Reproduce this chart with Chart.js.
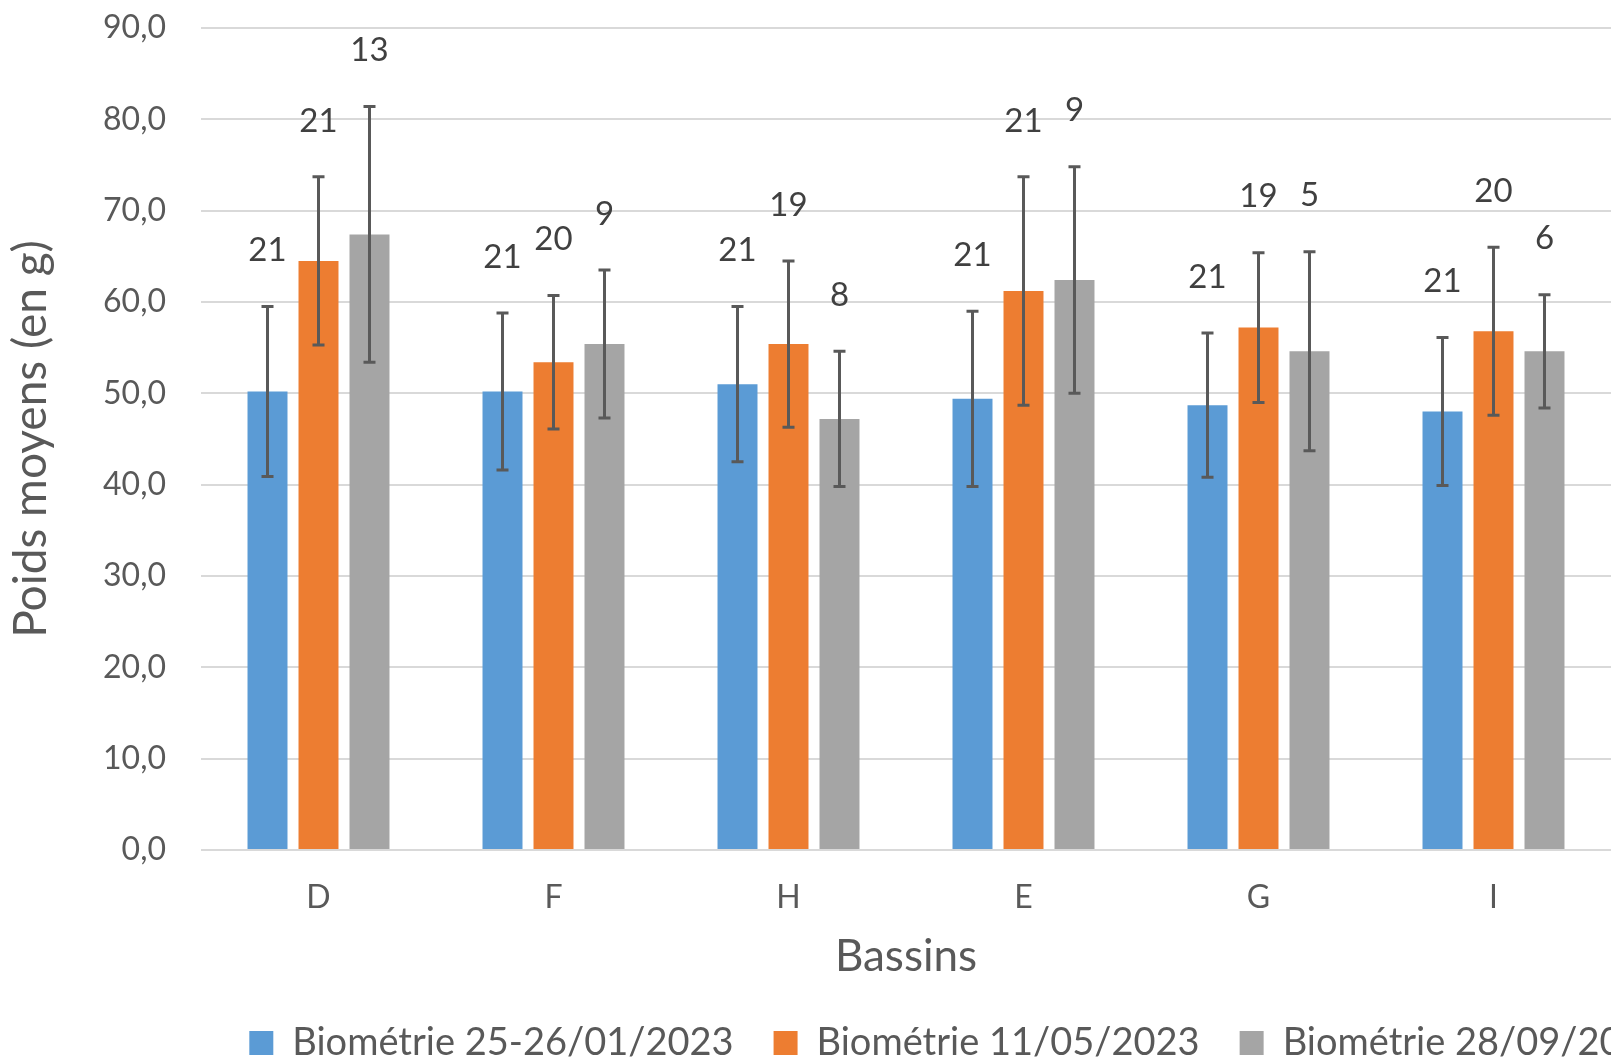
<!DOCTYPE html>
<html>
<head>
<meta charset="utf-8">
<script src="https://cdn.jsdelivr.net/npm/chart.js@4"></script>
<style>
  html, body { margin: 0; padding: 0; background: #fff; overflow: hidden; }
  #wrap { width: 1611px; height: 1062px; }
</style>
</head>
<body>
<div id="wrap"><canvas id="poidsChart"></canvas></div>
<script>
// Bassins
const categories = ["D", "F", "H", "E", "G", "I"];
const seriesNames = ["Biométrie 25-26/01/2023", "Biométrie 11/05/2023", "Biométrie 28/09/2023"];

// poids moyens (g)
const meanJan = [50.2, 50.2, 51.0, 49.4, 48.7, 48.0];
const meanMay = [64.5, 53.4, 55.4, 61.2, 57.2, 56.8];
const meanSep = [67.4, 55.4, 47.2, 62.4, 54.6, 54.6];

// ecarts-types (g)
const sdJan = [9.3, 8.6, 8.5, 9.6, 7.9, 8.1];
const sdMay = [9.2, 7.3, 9.1, 12.5, 8.2, 9.2];
const sdSep = [14.0, 8.1, 7.4, 12.4, 10.9, 6.2];

// effectifs
const nJan = [21, 21, 21, 21, 21, 21];
const nMay = [21, 20, 19, 21, 19, 20];
const nSep = [13, 9, 8, 9, 5, 6];

const yTicks = [0, 10, 20, 30, 40, 50, 60, 70, 80, 90];

const colors = ["#5B9BD5", "#ED7D31", "#A5A5A5"];
const textColor = "#595959";

const makeSet = (i, data, sd, n) => ({
    label: seriesNames[i],
    data: data,
    sd: sd,
    n: n,
    backgroundColor: colors[i],
    borderWidth: 0,
    categoryPercentage: 0.651,
    barPercentage: 0.784
});

// error bars + sample sizes above them
const errorBarsPlugin = {
    id: "errorBars",
    afterDatasetsDraw(chart) {
        const ctx = chart.ctx;
        const y = chart.scales.y;
        ctx.save();
        chart.data.datasets.forEach((ds, di) => {
            const meta = chart.getDatasetMeta(di);
            meta.data.forEach((bar, i) => {
                const top = y.getPixelForValue(ds.data[i] + ds.sd[i]);
                const bottom = y.getPixelForValue(ds.data[i] - ds.sd[i]);
                ctx.strokeStyle = "#595959";
                ctx.lineWidth = 3;
                ctx.beginPath();
                ctx.moveTo(bar.x, top);
                ctx.lineTo(bar.x, bottom);
                ctx.moveTo(bar.x - 6, top);
                ctx.lineTo(bar.x + 6, top);
                ctx.moveTo(bar.x - 6, bottom);
                ctx.lineTo(bar.x + 6, bottom);
                ctx.stroke();

                ctx.fillStyle = "#404040";
                ctx.font = "33px Lato";
                ctx.textAlign = "center";
                ctx.textBaseline = "middle";
                ctx.fillText(String(ds.n[i]), bar.x, top - 56);
            });
        });
        ctx.restore();
    }
};

// legend is wider than the visible area in the original: shift it like Excel did
const legendShiftPlugin = {
    id: "legendShift",
    afterLayout(chart) {
        const lg = chart.legend;
        lg.right = lg.left + 1915;
        lg.top += 10;
        lg.bottom += 10;
    }
};

new Chart(document.getElementById("poidsChart"), {
    type: "bar",
    data: {
        labels: categories,
        datasets: [
            makeSet(0, meanJan, sdJan, nJan),
            makeSet(1, meanMay, sdMay, nMay),
            makeSet(2, meanSep, sdSep, nSep)
        ]
    },
    options: {
        responsive: true,
        maintainAspectRatio: false,
        animation: false,
        layout: { padding: { top: 28, right: 0, bottom: 0, left: 0 } },
        plugins: {
            tooltip: { enabled: false },
            legend: {
                position: "bottom",
                labels: {
                    boxWidth: 24,
                    boxHeight: 24,
                    padding: 40,
                    color: textColor,
                    font: { family: "Lato", size: 38 }
                }
            }
        },
        scales: {
            x: {
                grid: { display: false },
                border: { display: false },
                ticks: {
                    color: textColor,
                    font: { family: "Lato", size: 32 },
                    padding: 20
                },
                title: {
                    display: true,
                    text: "Bassins",
                    color: textColor,
                    font: { family: "Lato", size: 44 },
                    padding: { top: 0, bottom: -9 }
                },
                afterFit(scale) { scale.height = 124; }
            },
            y: {
                min: 0,
                max: 90,
                afterBuildTicks(scale) { scale.ticks = yTicks.map(v => ({ value: v })); },
                grid: { color: "#D9D9D9", lineWidth: 2, drawTicks: false },
                border: { display: false },
                ticks: {
                    color: textColor,
                    font: { family: "Lato", size: 32 },
                    padding: 35,
                    callback: (v) => Number(v).toFixed(1).replace(".", ",")
                },
                title: {
                    display: true,
                    text: "Poids moyens (en g)",
                    color: textColor,
                    font: { family: "Lato", size: 46 },
                    padding: { top: 4, bottom: 0 }
                },
                afterFit(scale) {
                    scale.width = 201;
                    scale.paddingTop = 0;
                    scale.paddingBottom = 0;
                }
            }
        }
    },
    plugins: [errorBarsPlugin, legendShiftPlugin]
});
</script>
</body>
</html>
